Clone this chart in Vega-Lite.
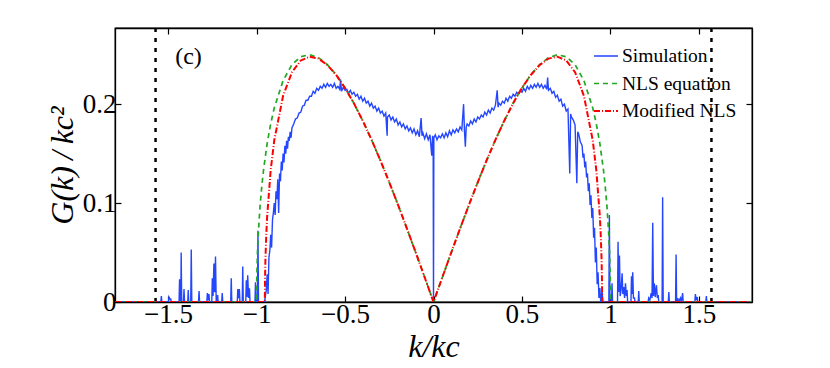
{
  "$schema": "https://vega.github.io/schema/vega-lite/v6.json",
  "width": 637,
  "height": 274,
  "autosize": {"type": "none"},
  "padding": {"left": 115, "top": 28, "right": 78, "bottom": 66},
  "background": "white",
  "config": {
    "font": "Liberation Serif",
    "view": {"stroke": "black", "strokeWidth": 1.3},
    "axis": {
      "domainColor": "black", "domainWidth": 1.3,
      "tickColor": "black", "tickWidth": 1.2, "tickSize": -6,
      "labelFont": "Liberation Serif", "labelFontSize": 27, "labelColor": "black",
      "grid": false,
      "titleFont": "Liberation Serif", "titleFontStyle": "italic", "titleFontWeight": "normal",
      "titleFontSize": 32, "titleColor": "black"
    },
    "legend": {
      "labelFont": "Liberation Serif", "labelFontSize": 19.5, "labelColor": "black",
      "symbolSize": 576, "symbolStrokeWidth": 2, "rowPadding": 4.5, "labelOffset": 3,
      "padding": 0, "offset": 15
    }
  },
  "datasets": {
    "curves": [
      {"s":"Simulation","k":-1.8,"g":0},
      {"s":"Simulation","k":-1.541,"g":0},{"s":"Simulation","k":-1.538,"g":0.006},{"s":"Simulation","k":-1.535,"g":0},
      {"s":"Simulation","k":-1.498,"g":0},{"s":"Simulation","k":-1.495,"g":0.005},{"s":"Simulation","k":-1.49,"g":0.003},{"s":"Simulation","k":-1.485,"g":0.003},{"s":"Simulation","k":-1.482,"g":0},
      {"s":"Simulation","k":-1.438,"g":0},{"s":"Simulation","k":-1.435,"g":0.023},{"s":"Simulation","k":-1.431,"g":0},{"s":"Simulation","k":-1.428,"g":0},{"s":"Simulation","k":-1.426,"g":0.05},{"s":"Simulation","k":-1.423,"g":0},
      {"s":"Simulation","k":-1.413,"g":0},{"s":"Simulation","k":-1.41,"g":0.013},{"s":"Simulation","k":-1.407,"g":0},
      {"s":"Simulation","k":-1.389,"g":0},{"s":"Simulation","k":-1.386,"g":0.012},{"s":"Simulation","k":-1.383,"g":0},
      {"s":"Simulation","k":-1.372,"g":0},{"s":"Simulation","k":-1.369,"g":0.053},{"s":"Simulation","k":-1.366,"g":0},
      {"s":"Simulation","k":-1.328,"g":0},{"s":"Simulation","k":-1.325,"g":0.011},{"s":"Simulation","k":-1.322,"g":0},
      {"s":"Simulation","k":-1.281,"g":0},{"s":"Simulation","k":-1.278,"g":0.009},{"s":"Simulation","k":-1.274,"g":0.002},{"s":"Simulation","k":-1.269,"g":0.008},{"s":"Simulation","k":-1.266,"g":0},
      {"s":"Simulation","k":-1.253,"g":0},{"s":"Simulation","k":-1.25,"g":0.024},{"s":"Simulation","k":-1.246,"g":0.006},{"s":"Simulation","k":-1.241,"g":0.039},{"s":"Simulation","k":-1.237,"g":0.01},{"s":"Simulation","k":-1.232,"g":0.046},{"s":"Simulation","k":-1.228,"g":0},{"s":"Simulation","k":-1.22,"g":0.007},{"s":"Simulation","k":-1.217,"g":0},
      {"s":"Simulation","k":-1.197,"g":0},{"s":"Simulation","k":-1.194,"g":0.009},{"s":"Simulation","k":-1.191,"g":0},
      {"s":"Simulation","k":-1.146,"g":0},{"s":"Simulation","k":-1.143,"g":0.024},{"s":"Simulation","k":-1.14,"g":0},
      {"s":"Simulation","k":-1.109,"g":0},{"s":"Simulation","k":-1.106,"g":0.013},{"s":"Simulation","k":-1.1,"g":0.004},{"s":"Simulation","k":-1.097,"g":0.013},{"s":"Simulation","k":-1.094,"g":0},
      {"s":"Simulation","k":-1.081,"g":0},{"s":"Simulation","k":-1.078,"g":0.036},{"s":"Simulation","k":-1.075,"g":0},
      {"s":"Simulation","k":-1.061,"g":0},{"s":"Simulation","k":-1.058,"g":0.022},{"s":"Simulation","k":-1.054,"g":0.005},{"s":"Simulation","k":-1.05,"g":0.027},{"s":"Simulation","k":-1.045,"g":0.004},{"s":"Simulation","k":-1.04,"g":0.014},{"s":"Simulation","k":-1.037,"g":0},
      {"s":"Simulation","k":-1.009,"g":0},{"s":"Simulation","k":-1.006,"g":0.02},{"s":"Simulation","k":-1.002,"g":0},
      {"s":"Simulation","k":-0.995,"g":0},{"s":"Simulation","k":-0.992,"g":0.072},{"s":"Simulation","k":-0.989,"g":0},
      {"s":"Simulation","k":-0.96,"g":0},
      {"s":"Simulation","k":-0.955,"g":0},{"s":"Simulation","k":-0.945,"g":0.012},{"s":"Simulation","k":-0.94,"g":0.028},{"s":"Simulation","k":-0.935,"g":0.008},{"s":"Simulation","k":-0.93,"g":0.045},{"s":"Simulation","k":-0.925,"g":0.052},{"s":"Simulation","k":-0.92,"g":0.068},{"s":"Simulation","k":-0.915,"g":0.055},{"s":"Simulation","k":-0.91,"g":0.083},{"s":"Simulation","k":-0.905,"g":0.09},{"s":"Simulation","k":-0.9,"g":0.1},{"s":"Simulation","k":-0.895,"g":0.088},{"s":"Simulation","k":-0.89,"g":0.112},{"s":"Simulation","k":-0.885,"g":0.104},{"s":"Simulation","k":-0.88,"g":0.124},{"s":"Simulation","k":-0.875,"g":0.09},{"s":"Simulation","k":-0.87,"g":0.13},{"s":"Simulation","k":-0.865,"g":0.122},{"s":"Simulation","k":-0.86,"g":0.142},{"s":"Simulation","k":-0.855,"g":0.133},{"s":"Simulation","k":-0.85,"g":0.15},{"s":"Simulation","k":-0.845,"g":0.141},{"s":"Simulation","k":-0.84,"g":0.158},{"s":"Simulation","k":-0.835,"g":0.15},{"s":"Simulation","k":-0.83,"g":0.163},{"s":"Simulation","k":-0.825,"g":0.155},{"s":"Simulation","k":-0.82,"g":0.167},{"s":"Simulation","k":-0.815,"g":0.163},{"s":"Simulation","k":-0.81,"g":0.172},{"s":"Simulation","k":-0.805,"g":0.166},{"s":"Simulation","k":-0.8,"g":0.176},
      {"s":"Simulation","k":-0.79,"g":0.18},{"s":"Simulation","k":-0.78,"g":0.185},{"s":"Simulation","k":-0.77,"g":0.186},{"s":"Simulation","k":-0.76,"g":0.191},{"s":"Simulation","k":-0.75,"g":0.192},{"s":"Simulation","k":-0.74,"g":0.198},{"s":"Simulation","k":-0.73,"g":0.199},{"s":"Simulation","k":-0.72,"g":0.204},{"s":"Simulation","k":-0.71,"g":0.204},{"s":"Simulation","k":-0.7,"g":0.208},{"s":"Simulation","k":-0.69,"g":0.208},{"s":"Simulation","k":-0.68,"g":0.213},{"s":"Simulation","k":-0.67,"g":0.211},{"s":"Simulation","k":-0.66,"g":0.216},{"s":"Simulation","k":-0.65,"g":0.214},{"s":"Simulation","k":-0.64,"g":0.218},{"s":"Simulation","k":-0.63,"g":0.216},{"s":"Simulation","k":-0.62,"g":0.22},{"s":"Simulation","k":-0.61,"g":0.217},{"s":"Simulation","k":-0.6,"g":0.221},{"s":"Simulation","k":-0.59,"g":0.218},{"s":"Simulation","k":-0.58,"g":0.22},{"s":"Simulation","k":-0.57,"g":0.217},{"s":"Simulation","k":-0.56,"g":0.221},{"s":"Simulation","k":-0.55,"g":0.216},{"s":"Simulation","k":-0.54,"g":0.218},{"s":"Simulation","k":-0.53,"g":0.215},{"s":"Simulation","k":-0.525,"g":0.225},{"s":"Simulation","k":-0.52,"g":0.213},{"s":"Simulation","k":-0.51,"g":0.217},{"s":"Simulation","k":-0.5,"g":0.214},{"s":"Simulation","k":-0.49,"g":0.215},{"s":"Simulation","k":-0.48,"g":0.211},{"s":"Simulation","k":-0.47,"g":0.214},{"s":"Simulation","k":-0.46,"g":0.21},{"s":"Simulation","k":-0.45,"g":0.212},{"s":"Simulation","k":-0.44,"g":0.208},{"s":"Simulation","k":-0.43,"g":0.21},{"s":"Simulation","k":-0.42,"g":0.205},{"s":"Simulation","k":-0.41,"g":0.208},{"s":"Simulation","k":-0.4,"g":0.203},{"s":"Simulation","k":-0.39,"g":0.206},{"s":"Simulation","k":-0.38,"g":0.201},{"s":"Simulation","k":-0.37,"g":0.203},{"s":"Simulation","k":-0.36,"g":0.198},{"s":"Simulation","k":-0.35,"g":0.201},{"s":"Simulation","k":-0.34,"g":0.196},{"s":"Simulation","k":-0.33,"g":0.198},{"s":"Simulation","k":-0.32,"g":0.193},{"s":"Simulation","k":-0.31,"g":0.196},{"s":"Simulation","k":-0.3,"g":0.191},{"s":"Simulation","k":-0.29,"g":0.193},{"s":"Simulation","k":-0.28,"g":0.188},{"s":"Simulation","k":-0.27,"g":0.191},{"s":"Simulation","k":-0.262,"g":0.168},{"s":"Simulation","k":-0.26,"g":0.187},{"s":"Simulation","k":-0.25,"g":0.189},{"s":"Simulation","k":-0.24,"g":0.184},{"s":"Simulation","k":-0.23,"g":0.187},{"s":"Simulation","k":-0.22,"g":0.182},{"s":"Simulation","k":-0.21,"g":0.185},{"s":"Simulation","k":-0.2,"g":0.179},{"s":"Simulation","k":-0.19,"g":0.182},{"s":"Simulation","k":-0.18,"g":0.177},{"s":"Simulation","k":-0.17,"g":0.18},{"s":"Simulation","k":-0.16,"g":0.175},{"s":"Simulation","k":-0.15,"g":0.178},{"s":"Simulation","k":-0.14,"g":0.173},{"s":"Simulation","k":-0.13,"g":0.176},{"s":"Simulation","k":-0.12,"g":0.171},{"s":"Simulation","k":-0.11,"g":0.175},{"s":"Simulation","k":-0.1,"g":0.169},{"s":"Simulation","k":-0.09,"g":0.173},{"s":"Simulation","k":-0.08,"g":0.167},{"s":"Simulation","k":-0.07,"g":0.186},{"s":"Simulation","k":-0.065,"g":0.168},{"s":"Simulation","k":-0.06,"g":0.171},{"s":"Simulation","k":-0.05,"g":0.165},{"s":"Simulation","k":-0.04,"g":0.17},{"s":"Simulation","k":-0.03,"g":0.164},{"s":"Simulation","k":-0.02,"g":0.169},{"s":"Simulation","k":-0.01,"g":0.148},{"s":"Simulation","k":-0.005,"g":0.168},{"s":"Simulation","k":-0.002,"g":0.164},
      {"s":"Simulation","k":0,"g":0},
      {"s":"Simulation","k":0.002,"g":0.166},{"s":"Simulation","k":0.01,"g":0.169},{"s":"Simulation","k":0.02,"g":0.164},{"s":"Simulation","k":0.03,"g":0.168},{"s":"Simulation","k":0.04,"g":0.166},{"s":"Simulation","k":0.05,"g":0.17},{"s":"Simulation","k":0.06,"g":0.166},{"s":"Simulation","k":0.07,"g":0.171},{"s":"Simulation","k":0.08,"g":0.167},{"s":"Simulation","k":0.09,"g":0.173},{"s":"Simulation","k":0.1,"g":0.169},{"s":"Simulation","k":0.11,"g":0.174},{"s":"Simulation","k":0.12,"g":0.171},{"s":"Simulation","k":0.13,"g":0.175},{"s":"Simulation","k":0.14,"g":0.172},{"s":"Simulation","k":0.15,"g":0.177},{"s":"Simulation","k":0.16,"g":0.174},{"s":"Simulation","k":0.17,"g":0.2},{"s":"Simulation","k":0.175,"g":0.173},{"s":"Simulation","k":0.18,"g":0.157},{"s":"Simulation","k":0.185,"g":0.177},{"s":"Simulation","k":0.19,"g":0.18},{"s":"Simulation","k":0.2,"g":0.178},{"s":"Simulation","k":0.21,"g":0.183},{"s":"Simulation","k":0.22,"g":0.18},{"s":"Simulation","k":0.23,"g":0.185},{"s":"Simulation","k":0.24,"g":0.182},{"s":"Simulation","k":0.25,"g":0.187},{"s":"Simulation","k":0.26,"g":0.185},{"s":"Simulation","k":0.27,"g":0.189},{"s":"Simulation","k":0.28,"g":0.187},{"s":"Simulation","k":0.29,"g":0.192},{"s":"Simulation","k":0.3,"g":0.189},{"s":"Simulation","k":0.31,"g":0.194},{"s":"Simulation","k":0.32,"g":0.191},{"s":"Simulation","k":0.33,"g":0.196},{"s":"Simulation","k":0.34,"g":0.194},{"s":"Simulation","k":0.35,"g":0.199},{"s":"Simulation","k":0.36,"g":0.214},{"s":"Simulation","k":0.365,"g":0.197},{"s":"Simulation","k":0.37,"g":0.201},{"s":"Simulation","k":0.38,"g":0.199},{"s":"Simulation","k":0.39,"g":0.203},{"s":"Simulation","k":0.4,"g":0.201},{"s":"Simulation","k":0.41,"g":0.206},{"s":"Simulation","k":0.42,"g":0.203},{"s":"Simulation","k":0.43,"g":0.208},{"s":"Simulation","k":0.44,"g":0.206},{"s":"Simulation","k":0.45,"g":0.21},{"s":"Simulation","k":0.46,"g":0.208},{"s":"Simulation","k":0.47,"g":0.212},{"s":"Simulation","k":0.48,"g":0.21},{"s":"Simulation","k":0.49,"g":0.214},{"s":"Simulation","k":0.5,"g":0.212},{"s":"Simulation","k":0.51,"g":0.216},{"s":"Simulation","k":0.52,"g":0.213},{"s":"Simulation","k":0.53,"g":0.218},{"s":"Simulation","k":0.54,"g":0.215},{"s":"Simulation","k":0.55,"g":0.219},{"s":"Simulation","k":0.56,"g":0.216},{"s":"Simulation","k":0.57,"g":0.22},{"s":"Simulation","k":0.58,"g":0.217},{"s":"Simulation","k":0.59,"g":0.221},{"s":"Simulation","k":0.6,"g":0.217},{"s":"Simulation","k":0.61,"g":0.22},{"s":"Simulation","k":0.62,"g":0.216},{"s":"Simulation","k":0.63,"g":0.219},{"s":"Simulation","k":0.64,"g":0.215},{"s":"Simulation","k":0.645,"g":0.227},{"s":"Simulation","k":0.65,"g":0.214},{"s":"Simulation","k":0.66,"g":0.216},{"s":"Simulation","k":0.67,"g":0.211},{"s":"Simulation","k":0.68,"g":0.213},{"s":"Simulation","k":0.69,"g":0.207},{"s":"Simulation","k":0.7,"g":0.209},{"s":"Simulation","k":0.71,"g":0.203},{"s":"Simulation","k":0.72,"g":0.205},{"s":"Simulation","k":0.73,"g":0.198},{"s":"Simulation","k":0.74,"g":0.2},{"s":"Simulation","k":0.75,"g":0.193},{"s":"Simulation","k":0.76,"g":0.195},{"s":"Simulation","k":0.77,"g":0.13},{"s":"Simulation","k":0.775,"g":0.19},{"s":"Simulation","k":0.78,"g":0.187},{"s":"Simulation","k":0.79,"g":0.184},{"s":"Simulation","k":0.8,"g":0.179},{"s":"Simulation","k":0.81,"g":0.12},{"s":"Simulation","k":0.815,"g":0.172},{"s":"Simulation","k":0.82,"g":0.17},{"s":"Simulation","k":0.83,"g":0.162},{"s":"Simulation","k":0.84,"g":0.158},{"s":"Simulation","k":0.845,"g":0.146},{"s":"Simulation","k":0.85,"g":0.15},{"s":"Simulation","k":0.855,"g":0.136},{"s":"Simulation","k":0.86,"g":0.142},{"s":"Simulation","k":0.865,"g":0.126},{"s":"Simulation","k":0.87,"g":0.13},{"s":"Simulation","k":0.875,"g":0.112},{"s":"Simulation","k":0.88,"g":0.12},{"s":"Simulation","k":0.885,"g":0.098},{"s":"Simulation","k":0.89,"g":0.108},{"s":"Simulation","k":0.895,"g":0.085},{"s":"Simulation","k":0.9,"g":0.095},{"s":"Simulation","k":0.905,"g":0.065},{"s":"Simulation","k":0.91,"g":0.075},{"s":"Simulation","k":0.915,"g":0.04},{"s":"Simulation","k":0.92,"g":0.055},{"s":"Simulation","k":0.925,"g":0.018},{"s":"Simulation","k":0.93,"g":0.03},{"s":"Simulation","k":0.935,"g":0.004},{"s":"Simulation","k":0.94,"g":0.014},{"s":"Simulation","k":0.945,"g":0},{"s":"Simulation","k":0.953,"g":0.012},{"s":"Simulation","k":0.957,"g":0},
      {"s":"Simulation","k":0.991,"g":0},{"s":"Simulation","k":0.994,"g":0.088},{"s":"Simulation","k":0.997,"g":0},
      {"s":"Simulation","k":1.006,"g":0},{"s":"Simulation","k":1.009,"g":0.019},{"s":"Simulation","k":1.012,"g":0},
      {"s":"Simulation","k":1.04,"g":0},{"s":"Simulation","k":1.043,"g":0.061},{"s":"Simulation","k":1.047,"g":0.01},{"s":"Simulation","k":1.051,"g":0.047},{"s":"Simulation","k":1.055,"g":0.006},{"s":"Simulation","k":1.06,"g":0.012},{"s":"Simulation","k":1.066,"g":0.029},{"s":"Simulation","k":1.07,"g":0.008},{"s":"Simulation","k":1.075,"g":0.015},{"s":"Simulation","k":1.08,"g":0.004},{"s":"Simulation","k":1.085,"g":0.019},{"s":"Simulation","k":1.09,"g":0.006},{"s":"Simulation","k":1.094,"g":0.012},{"s":"Simulation","k":1.097,"g":0},
      {"s":"Simulation","k":1.116,"g":0},{"s":"Simulation","k":1.119,"g":0.026},{"s":"Simulation","k":1.122,"g":0.008},{"s":"Simulation","k":1.126,"g":0.03},{"s":"Simulation","k":1.13,"g":0.004},{"s":"Simulation","k":1.136,"g":0.004},{"s":"Simulation","k":1.139,"g":0},
      {"s":"Simulation","k":1.157,"g":0},{"s":"Simulation","k":1.16,"g":0.011},{"s":"Simulation","k":1.163,"g":0},
      {"s":"Simulation","k":1.213,"g":0},{"s":"Simulation","k":1.216,"g":0.004},{"s":"Simulation","k":1.223,"g":0.002},{"s":"Simulation","k":1.23,"g":0.009},{"s":"Simulation","k":1.235,"g":0.004},{"s":"Simulation","k":1.239,"g":0.08},{"s":"Simulation","k":1.243,"g":0.006},{"s":"Simulation","k":1.248,"g":0.019},{"s":"Simulation","k":1.253,"g":0.005},{"s":"Simulation","k":1.26,"g":0.017},{"s":"Simulation","k":1.265,"g":0.004},{"s":"Simulation","k":1.27,"g":0.007},{"s":"Simulation","k":1.273,"g":0},
      {"s":"Simulation","k":1.292,"g":0},{"s":"Simulation","k":1.295,"g":0.106},{"s":"Simulation","k":1.298,"g":0},
      {"s":"Simulation","k":1.327,"g":0},{"s":"Simulation","k":1.33,"g":0.01},{"s":"Simulation","k":1.333,"g":0},
      {"s":"Simulation","k":1.368,"g":0},{"s":"Simulation","k":1.371,"g":0.048},{"s":"Simulation","k":1.374,"g":0},{"s":"Simulation","k":1.38,"g":0.004},{"s":"Simulation","k":1.385,"g":0},{"s":"Simulation","k":1.395,"g":0.004},{"s":"Simulation","k":1.4,"g":0},{"s":"Simulation","k":1.408,"g":0.009},{"s":"Simulation","k":1.411,"g":0},
      {"s":"Simulation","k":1.477,"g":0},{"s":"Simulation","k":1.48,"g":0.008},{"s":"Simulation","k":1.485,"g":0.002},{"s":"Simulation","k":1.49,"g":0.005},{"s":"Simulation","k":1.493,"g":0},
      {"s":"Simulation","k":1.539,"g":0},{"s":"Simulation","k":1.542,"g":0.006},{"s":"Simulation","k":1.545,"g":0},
      {"s":"Simulation","k":1.8,"g":0},

      {"s":"NLS equation","k":-1.8,"g":0},{"s":"NLS equation","k":-1.0,"g":0},{"s":"NLS equation","k":-0.999,"g":0.0223},{"s":"NLS equation","k":-0.995,"g":0.0497},{"s":"NLS equation","k":-0.99,"g":0.0698},{"s":"NLS equation","k":-0.98,"g":0.0975},{"s":"NLS equation","k":-0.97,"g":0.1179},{"s":"NLS equation","k":-0.96,"g":0.1344},{"s":"NLS equation","k":-0.94,"g":0.1604},{"s":"NLS equation","k":-0.92,"g":0.1803},{"s":"NLS equation","k":-0.9,"g":0.1962},{"s":"NLS equation","k":-0.85,"g":0.2239},{"s":"NLS equation","k":-0.8,"g":0.24},{"s":"NLS equation","k":-0.75,"g":0.248},{"s":"NLS equation","k":-0.7,"g":0.25},{"s":"NLS equation","k":-0.65,"g":0.247},{"s":"NLS equation","k":-0.6,"g":0.24},{"s":"NLS equation","k":-0.55,"g":0.2297},{"s":"NLS equation","k":-0.5,"g":0.2165},{"s":"NLS equation","k":-0.45,"g":0.2009},{"s":"NLS equation","k":-0.4,"g":0.1833},{"s":"NLS equation","k":-0.35,"g":0.1639},{"s":"NLS equation","k":-0.3,"g":0.1431},{"s":"NLS equation","k":-0.25,"g":0.121},{"s":"NLS equation","k":-0.2,"g":0.098},{"s":"NLS equation","k":-0.15,"g":0.0742},{"s":"NLS equation","k":-0.1,"g":0.0498},{"s":"NLS equation","k":-0.05,"g":0.025},{"s":"NLS equation","k":0,"g":0},
      {"s":"NLS equation","k":0.05,"g":0.025},{"s":"NLS equation","k":0.1,"g":0.0498},{"s":"NLS equation","k":0.15,"g":0.0742},{"s":"NLS equation","k":0.2,"g":0.098},{"s":"NLS equation","k":0.25,"g":0.121},{"s":"NLS equation","k":0.3,"g":0.1431},{"s":"NLS equation","k":0.35,"g":0.1639},{"s":"NLS equation","k":0.4,"g":0.1833},{"s":"NLS equation","k":0.45,"g":0.2009},{"s":"NLS equation","k":0.5,"g":0.2165},{"s":"NLS equation","k":0.55,"g":0.2297},{"s":"NLS equation","k":0.6,"g":0.24},{"s":"NLS equation","k":0.65,"g":0.247},{"s":"NLS equation","k":0.7,"g":0.25},{"s":"NLS equation","k":0.75,"g":0.248},{"s":"NLS equation","k":0.8,"g":0.24},{"s":"NLS equation","k":0.85,"g":0.2239},{"s":"NLS equation","k":0.9,"g":0.1962},{"s":"NLS equation","k":0.92,"g":0.1803},{"s":"NLS equation","k":0.94,"g":0.1604},{"s":"NLS equation","k":0.96,"g":0.1344},{"s":"NLS equation","k":0.97,"g":0.1179},{"s":"NLS equation","k":0.98,"g":0.0975},{"s":"NLS equation","k":0.99,"g":0.0698},{"s":"NLS equation","k":0.995,"g":0.0497},{"s":"NLS equation","k":0.999,"g":0.0223},{"s":"NLS equation","k":1.0,"g":0},{"s":"NLS equation","k":1.8,"g":0},

      {"s":"Modified NLS","k":-1.8,"g":0},{"s":"Modified NLS","k":-0.9533,"g":0},{"s":"Modified NLS","k":-0.952,"g":0.0243},{"s":"Modified NLS","k":-0.95,"g":0.0423},{"s":"Modified NLS","k":-0.945,"g":0.0687},{"s":"Modified NLS","k":-0.94,"g":0.0868},{"s":"Modified NLS","k":-0.92,"g":0.1336},{"s":"Modified NLS","k":-0.9,"g":0.1634},{"s":"Modified NLS","k":-0.85,"g":0.2085},{"s":"Modified NLS","k":-0.8,"g":0.2323},{"s":"Modified NLS","k":-0.75,"g":0.2442},{"s":"Modified NLS","k":-0.7,"g":0.248},{"s":"Modified NLS","k":-0.65,"g":0.2461},{"s":"Modified NLS","k":-0.6,"g":0.2396},{"s":"Modified NLS","k":-0.55,"g":0.2295},{"s":"Modified NLS","k":-0.5,"g":0.2164},{"s":"Modified NLS","k":-0.45,"g":0.2009},{"s":"Modified NLS","k":-0.4,"g":0.1833},{"s":"Modified NLS","k":-0.35,"g":0.1639},{"s":"Modified NLS","k":-0.3,"g":0.1431},{"s":"Modified NLS","k":-0.25,"g":0.121},{"s":"Modified NLS","k":-0.2,"g":0.098},{"s":"Modified NLS","k":-0.15,"g":0.0742},{"s":"Modified NLS","k":-0.1,"g":0.0498},{"s":"Modified NLS","k":-0.05,"g":0.025},{"s":"Modified NLS","k":0,"g":0},
      {"s":"Modified NLS","k":0.05,"g":0.025},{"s":"Modified NLS","k":0.1,"g":0.0498},{"s":"Modified NLS","k":0.15,"g":0.0742},{"s":"Modified NLS","k":0.2,"g":0.098},{"s":"Modified NLS","k":0.25,"g":0.121},{"s":"Modified NLS","k":0.3,"g":0.1431},{"s":"Modified NLS","k":0.35,"g":0.1639},{"s":"Modified NLS","k":0.4,"g":0.1833},{"s":"Modified NLS","k":0.45,"g":0.2009},{"s":"Modified NLS","k":0.5,"g":0.2164},{"s":"Modified NLS","k":0.55,"g":0.2295},{"s":"Modified NLS","k":0.6,"g":0.2396},{"s":"Modified NLS","k":0.65,"g":0.2461},{"s":"Modified NLS","k":0.7,"g":0.248},{"s":"Modified NLS","k":0.75,"g":0.2442},{"s":"Modified NLS","k":0.8,"g":0.2323},{"s":"Modified NLS","k":0.85,"g":0.2085},{"s":"Modified NLS","k":0.9,"g":0.1634},{"s":"Modified NLS","k":0.92,"g":0.1336},{"s":"Modified NLS","k":0.94,"g":0.0868},{"s":"Modified NLS","k":0.945,"g":0.0687},{"s":"Modified NLS","k":0.95,"g":0.0423},{"s":"Modified NLS","k":0.952,"g":0.0243},{"s":"Modified NLS","k":0.9533,"g":0},{"s":"Modified NLS","k":1.8,"g":0}
    ],
    "bounds": [{"k": -1.5708}, {"k": 1.5708}],
    "label": [{"k": -1.46, "g": 0.2404, "t": "(c)"}]
  },
  "layer": [
    {
      "data": {"name": "bounds"},
      "mark": {"type": "rule", "color": "black", "strokeWidth": 2.5, "strokeDash": [4, 6]},
      "encoding": {
        "x": {"field": "k", "type": "quantitative", "scale": {"domain": [-1.8, 1.8], "nice": false, "zero": false},
              "axis": {"orient": "top", "values": [-1.5, -1, -0.5, 0, 0.5, 1, 1.5], "labels": false, "title": null}}
      }
    },
    {
      "data": {"name": "curves"},
      "mark": {"type": "line", "clip": true},
      "encoding": {
        "x": {"field": "k", "type": "quantitative", "scale": {"domain": [-1.8, 1.8], "nice": false, "zero": false},
              "axis": {"orient": "bottom", "values": [-1.5, -1, -0.5, 0, 0.5, 1, 1.5], "format": "~g", "title": "k/kc", "labelPadding": 5, "titlePadding": 4, "labelFlush": false}},
        "y": {"field": "g", "type": "quantitative", "scale": {"domain": [0, 0.277], "nice": false, "zero": false},
              "axis": {"orient": "left", "values": [0, 0.1, 0.2], "format": "~g", "title": "G(k)\u2009/\u2009kc²", "labelPadding": 5, "titlePadding": 3}},
        "color": {"field": "s", "type": "nominal", "title": null,
                  "scale": {"domain": ["Simulation", "NLS equation", "Modified NLS"], "range": ["#2446ff", "#22a822", "#ff0000"]},
                  "legend": {"orient": "top-right", "title": null}},
        "strokeDash": {"field": "s", "type": "nominal", "title": null,
                  "scale": {"domain": ["Simulation", "NLS equation", "Modified NLS"], "range": [[1, 0], [5, 4], [6, 2, 1, 2]]},
                  "legend": {"orient": "top-right", "title": null}},
        "strokeWidth": {"field": "s", "type": "nominal",
                  "scale": {"domain": ["Simulation", "NLS equation", "Modified NLS"], "range": [1.4, 2, 2]},
                  "legend": null}
      }
    },
    {
      "data": {"name": "curves"},
      "mark": {"type": "point", "opacity": 0},
      "encoding": {
        "x": {"field": "k", "type": "quantitative", "scale": {"domain": [-1.8, 1.8], "nice": false, "zero": false}, "axis": null},
        "y": {"field": "g", "type": "quantitative", "scale": {"domain": [0, 0.277], "nice": false, "zero": false},
              "axis": {"orient": "right", "values": [0, 0.1, 0.2], "labels": false, "title": null}}
      }
    },
    {
      "data": {"name": "label"},
      "mark": {"type": "text", "font": "Liberation Serif", "fontSize": 24, "align": "left", "baseline": "alphabetic", "color": "black"},
      "encoding": {
        "x": {"field": "k", "type": "quantitative", "axis": null},
        "y": {"field": "g", "type": "quantitative", "axis": null},
        "text": {"field": "t"}
      }
    }
  ],
  "resolve": {"axis": {"x": "independent", "y": "independent"}}
}
